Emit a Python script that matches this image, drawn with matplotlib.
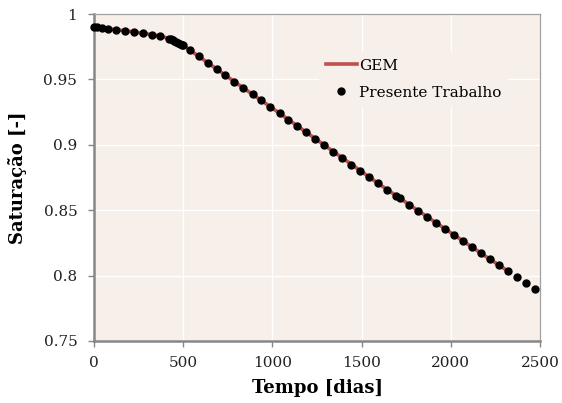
import matplotlib

matplotlib.use("Agg")
import matplotlib.pyplot as plt
from matplotlib.ticker import FuncFormatter

# valores
tempo_pt = [0, 15, 45, 80, 125, 175, 225, 275, 325, 372,
	421, 431, 441, 451, 461, 471, 481, 491, 500,
	538, 590, 637, 687, 737, 787, 837, 889, 938, 989,
	1040, 1090, 1140, 1189, 1240, 1290, 1341, 1391, 1442, 1493,
	1541, 1592, 1642, 1692, 1717, 1766, 1818, 1867, 1917, 1968,
	2019, 2069, 2120, 2169, 2219, 2270, 2320, 2371, 2421, 2472]
sat_pt = [0.9903, 0.9900, 0.9893, 0.9888, 0.9880, 0.9872, 0.9862, 0.9852, 0.9842, 0.9832,
	0.9811, 0.9806, 0.9800, 0.9794, 0.9787, 0.9780, 0.9773, 0.9766, 0.9760,
	0.9722, 0.9677, 0.9628, 0.9577, 0.9531, 0.9482, 0.9436, 0.9388, 0.9340, 0.9289,
	0.9241, 0.9192, 0.9142, 0.9096, 0.9045, 0.8997, 0.8948, 0.8900, 0.8849, 0.8803,
	0.8755, 0.8706, 0.8658, 0.8610, 0.8591, 0.8542, 0.8496, 0.8450, 0.8402, 0.8356,
	0.8311, 0.8265, 0.8221, 0.8170, 0.8125, 0.8081, 0.8035, 0.7991, 0.7946, 0.7897]

tempo_gem = [0, 100, 200, 300, 380, 420, 460, 500, 600, 800, 1000,
	1200, 1400, 1600, 1800, 2000, 2200, 2320]
sat_gem = [0.9903, 0.9884, 0.9867, 0.9847, 0.9830, 0.9811, 0.9787, 0.9760, 0.9664, 0.9470, 0.9280,
	0.9086, 0.8892, 0.8698, 0.8512, 0.8328, 0.8143, 0.8035]

x_ticks = [0, 500, 1000, 1500, 2000, 2500]
y_ticks = [0.75, 0.8, 0.85, 0.9, 0.95, 1.0]

BG = "#F7EFE9"
RED = "#C0504D"
SPINE = "#878787"

plt.rcParams["font.family"] = ["DejaVu Serif"]

fig = plt.figure(figsize=(5.62, 4.03), dpi=100)
ax = fig.add_axes([94 / 562, 1 - 341 / 403, 446 / 562, 327 / 403])
ax.set_facecolor(BG)

ax.plot(tempo_gem, sat_gem, color=RED, lw=2.6, label="GEM", zorder=2)
ax.plot(tempo_pt, sat_pt, ls="none", marker="o", ms=5, color="black",
	label="Presente Trabalho", zorder=3, clip_on=False)

ax.set_xlim(0, 2500)
ax.set_ylim(0.75, 1.0)
ax.set_xticks(x_ticks)
ax.set_yticks(y_ticks)
ax.yaxis.set_major_formatter(FuncFormatter(lambda v, p: f"{v:g}"))
ax.grid(True, color="white", lw=1.0)
ax.set_axisbelow(True)

for s in ("left", "bottom"):
	ax.spines[s].set_color(SPINE)
	ax.spines[s].set_linewidth(1.8)
for s in ("top", "right"):
	ax.spines[s].set_color("#A0A0A0")
	ax.spines[s].set_linewidth(0.9)

ax.tick_params(axis="both", direction="out", length=4, width=1, color=SPINE,
	labelsize=11, labelcolor="#222222")
ax.tick_params(axis="y", pad=8)
ax.tick_params(axis="x", pad=7)

ax.set_xlabel("Tempo [dias]", fontsize=13, fontweight="bold", labelpad=6)
ax.set_ylabel("Saturação [-]", fontsize=13, fontweight="bold", labelpad=12)

leg = ax.legend(loc="upper left", bbox_to_anchor=(0.505, 0.884), fontsize=11,
	frameon=True, facecolor=BG, edgecolor="none", framealpha=1, fancybox=False,
	handlelength=2.0, handletextpad=0.15, labelspacing=0.85, borderaxespad=0,
	borderpad=0.45)

fig.savefig("out.png", dpi=100)
